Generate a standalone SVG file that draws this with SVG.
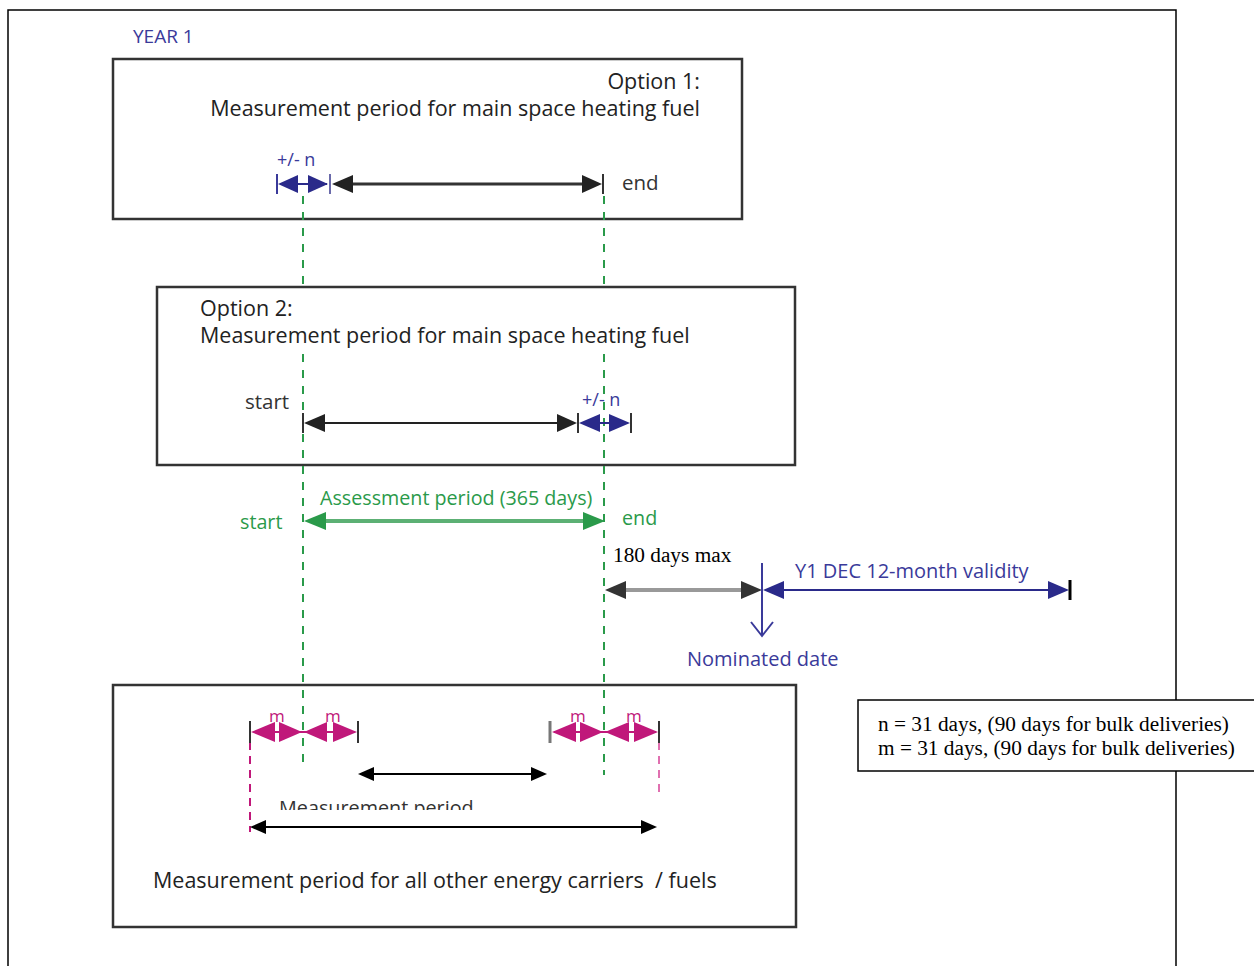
<svg xmlns="http://www.w3.org/2000/svg" width="1254" height="966" viewBox="0 0 1254 966">
<style>
.frame{fill:none;stroke:#000;stroke-width:1.5}
.box{fill:#fff;stroke:#333;stroke-width:2.5}
.t{font-family:"Open Sans","Liberation Sans",sans-serif;font-size:21.5px;fill:#222}
.tb{font-family:"Open Sans","Liberation Sans",sans-serif;font-size:20px;fill:#3a3a9a}
.tg{font-family:"Open Sans","Liberation Sans",sans-serif;font-size:19.7px;fill:#2a9a4a}
.tm{font-family:"Open Sans","Liberation Sans",sans-serif;font-size:17px;fill:#c0187a}
.ts{font-family:"Liberation Serif",serif;font-size:21.3px;fill:#000}
.gd{stroke:#2a9a4a;stroke-width:2;stroke-dasharray:8,8;fill:none}
.md{stroke:#c0187a;stroke-width:2;stroke-dasharray:8,6;fill:none}
.tick{stroke:#333;stroke-width:2}
</style>
<defs>
<clipPath id="clipMP"><rect x="200" y="790" width="400" height="20"/></clipPath>
</defs>
<rect x="0" y="0" width="1254" height="966" fill="#fff"/>
<path class="frame" d="M8,966 V10 H1176 V966"/>
<text x="133" y="43" class="tb" style="font-size:19px;font-weight:500">YEAR 1</text>

<g id="option1">
<rect class="box" x="113" y="59" width="629" height="160"/>
<text class="t" x="700" y="89" text-anchor="end">Option 1:</text>
<text class="t" x="700" y="116" text-anchor="end">Measurement period for main space heating fuel</text>
<text class="tb" x="277" y="166" style="font-size:18px">+/- n</text>
</g>

<g id="option2">
<rect class="box" x="157" y="287" width="638" height="178"/>
<text class="t" x="200" y="316">Option 2:</text>
<text class="t" x="200" y="343">Measurement period for main space heating fuel</text>
<text class="t" x="245" y="409" style="font-size:20.5px;fill:#333">start</text>
<text class="tb" x="582" y="406" style="font-size:18px">+/- n</text>
</g>

<g id="assessment">
<text class="tg" x="320" y="505">Assessment period (365 days)</text>
<text class="tg" x="240" y="529">start</text>
<text class="tg" x="622" y="525">end</text>
</g>

<g id="option3">
<rect class="box" x="113" y="685" width="683" height="242"/>
<text class="t" x="153" y="888" xml:space="preserve" style="white-space:pre">Measurement period for all other energy carriers  / fuels</text>
<g clip-path="url(#clipMP)"><text class="t" x="279" y="815" style="fill:#333;font-size:19.8px">Measurement period</text></g>
<text class="tm" x="269" y="722">m</text>
<text class="tm" x="325" y="722">m</text>
<text class="tm" x="570" y="722">m</text>
<text class="tm" x="626" y="722">m</text>
</g>

<g id="labels">
<text class="t" x="622" y="190" style="font-size:20.5px;fill:#333">end</text>
<text class="ts" x="613" y="562">180 days max</text>
<text class="tb" x="795" y="578">Y1 DEC 12-month validity</text>
<text class="tb" x="687" y="666">Nominated date</text>
</g>

<g id="note">
<rect x="858" y="700" width="400" height="71" fill="#fff" stroke="#000" stroke-width="1.5"/>
<text class="ts" x="878" y="731">n = 31 days, (90 days for bulk deliveries)</text>
<text class="ts" x="878" y="755">m = 31 days, (90 days for bulk deliveries)</text>
</g>

<g id="connectors">
<!-- green dashed guides -->
<path class="gd" d="M303,196 V287 M303,354 V770"/>
<path class="gd" d="M604,196 V287 M604,354 V775"/>
<!-- magenta dashed -->
<path class="md" d="M250,742 V832"/>
<path class="md" d="M659,742 V796" style="stroke:#e070b0"/>

<!-- Option 1 row -->
<line class="tick" x1="277" y1="174" x2="277" y2="194" style="stroke:#3a3a9a"/>
<line x1="280" y1="184" x2="327" y2="184" stroke="#2a2a8a" stroke-width="2"/>
<polygon points="278,184 298,175 298,193" fill="#2a2a8a"/>
<polygon points="328,184 308,175 308,193" fill="#2a2a8a"/>
<line class="tick" x1="330" y1="174" x2="330" y2="194" style="stroke:#6a6aaa"/>
<line x1="340" y1="184" x2="590" y2="184" stroke="#333" stroke-width="3"/>
<polygon points="332,184 353,175 353,193" fill="#222"/>
<polygon points="602,184 582,175 582,193" fill="#222"/>
<line class="tick" x1="603" y1="174" x2="603" y2="194"/>

<!-- Option 2 row -->
<line class="tick" x1="303" y1="413" x2="303" y2="433"/>
<line x1="310" y1="423" x2="570" y2="423" stroke="#222" stroke-width="2"/>
<polygon points="304,423 325,414 325,432" fill="#222"/>
<polygon points="577,423 557,414 557,432" fill="#222"/>
<line class="tick" x1="578" y1="413" x2="578" y2="433"/>
<line x1="582" y1="423" x2="628" y2="423" stroke="#2a2a8a" stroke-width="2"/>
<polygon points="579,423 600,414 600,432" fill="#2a2a8a"/>
<polygon points="630,423 609,414 609,432" fill="#2a2a8a"/>
<line class="tick" x1="631" y1="413" x2="631" y2="433"/>

<!-- Assessment arrow -->
<line x1="312" y1="521" x2="597" y2="521" stroke="#5cb074" stroke-width="4"/>
<polygon points="304,521 326,512 326,530" fill="#2a9a4a"/>
<polygon points="605,521 583,512 583,530" fill="#2a9a4a"/>

<!-- 180 days arrow -->
<line x1="612" y1="590" x2="755" y2="590" stroke="#999" stroke-width="4"/>
<polygon points="605,590 626,581 626,599" fill="#333"/>
<polygon points="762,590 741,581 741,599" fill="#333"/>
<!-- nominated date -->
<line x1="762" y1="563" x2="762" y2="636" stroke="#3a3a9a" stroke-width="2"/>
<polyline points="751,622 762,636 773,622" fill="none" stroke="#3a3a9a" stroke-width="2"/>
<!-- validity -->
<line x1="770" y1="590" x2="1062" y2="590" stroke="#2a2a8a" stroke-width="2"/>
<polygon points="763,590 784,581 784,599" fill="#2a2a8a"/>
<polygon points="1069,590 1048,581 1048,599" fill="#2a2a8a"/>
<line x1="1070" y1="580" x2="1070" y2="600" stroke="#000" stroke-width="3"/>

<!-- m arrows left group -->
<line class="tick" x1="250" y1="721" x2="250" y2="743"/>
<line x1="254" y1="732" x2="354" y2="732" stroke="#c0187a" stroke-width="2"/>
<polygon points="251,732 275,722 275,742" fill="#c0187a"/>
<polygon points="302,732 279,722 279,742" fill="#c0187a"/>
<polygon points="304,732 327,722 327,742" fill="#c0187a"/>
<polygon points="357,732 333,722 333,742" fill="#c0187a"/>
<line class="tick" x1="358" y1="721" x2="358" y2="743"/>
<!-- m arrows right group -->
<line x1="550" y1="721" x2="550" y2="743" stroke="#777" stroke-width="3"/>
<line x1="554" y1="732" x2="656" y2="732" stroke="#c0187a" stroke-width="2"/>
<polygon points="552,732 576,722 576,742" fill="#c0187a"/>
<polygon points="603,732 580,722 580,742" fill="#c0187a"/>
<polygon points="605,732 629,722 629,742" fill="#c0187a"/>
<polygon points="658,732 634,722 634,742" fill="#c0187a"/>
<line class="tick" x1="659" y1="721" x2="659" y2="743"/>

<!-- measurement arrows -->
<line x1="365" y1="774" x2="540" y2="774" stroke="#000" stroke-width="2"/>
<polygon points="358,774 374,767 374,781" fill="#000"/>
<polygon points="547,774 531,767 531,781" fill="#000"/>
<line x1="258" y1="827" x2="650" y2="827" stroke="#000" stroke-width="2"/>
<polygon points="250,827 266,820 266,834" fill="#000"/>
<polygon points="657,827 641,820 641,834" fill="#000"/>
</g>
</svg>
